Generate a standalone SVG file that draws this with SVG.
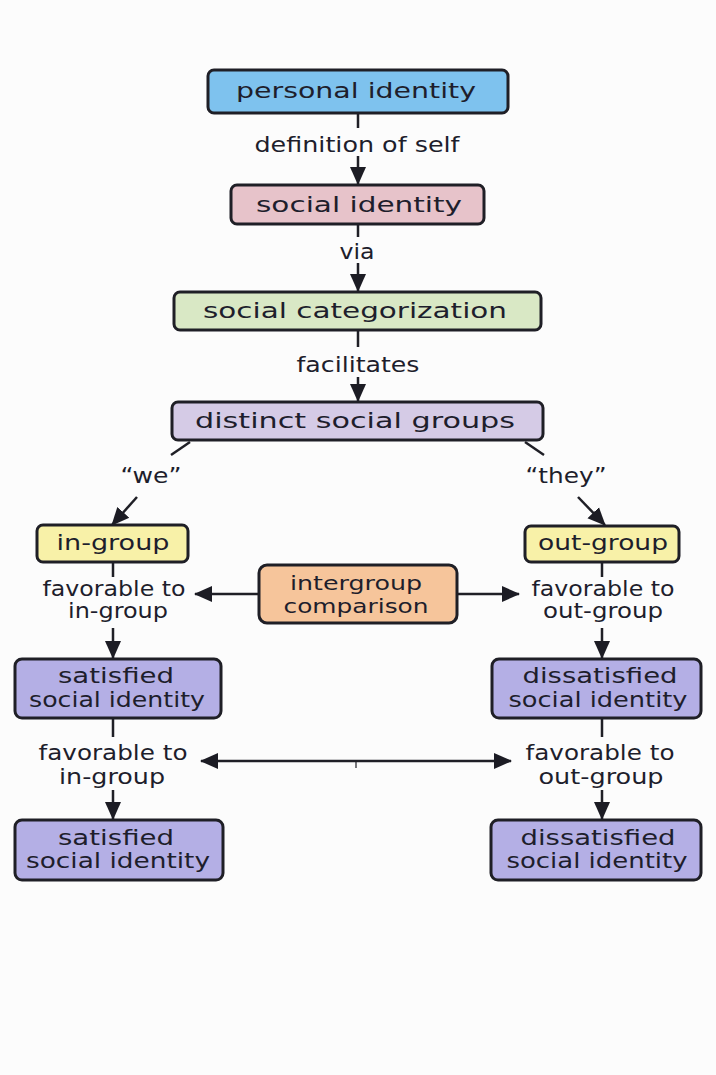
<svg xmlns="http://www.w3.org/2000/svg" width="716" height="1075" viewBox="0 0 716 1075">
<defs>
<marker id="ah" markerUnits="userSpaceOnUse" markerWidth="18" markerHeight="18" viewBox="0 0 18 18" refX="17" refY="9" orient="auto-start-reverse">
<path d="M0,1 L18,9 L0,17 Z" fill="#1c1c24"/>
</marker>
</defs>
<style>
.box{stroke:#1f1f26;stroke-width:3}
.t{font-family:"DejaVu Sans","Liberation Sans",sans-serif;fill:#1e1e2c;text-anchor:middle}
.b{font-size:22px}
.l{font-size:21px}
.s{font-size:20px}
.c{fill:none;stroke:#1f1f26;stroke-width:2.5}
</style>
<rect width="716" height="1075" fill="#fcfcfc"/>
<g id="connectors">
<path class="c" d="M358,113 V128"/>
<path class="c" d="M358,156 V184" marker-end="url(#ah)"/>
<path class="c" d="M358,225 V237"/>
<path class="c" d="M358,263 V291" marker-end="url(#ah)"/>
<path class="c" d="M358,331 V347"/>
<path class="c" d="M358,377 V401" marker-end="url(#ah)"/>
<path class="c" d="M190,442 L171,455"/>
<path class="c" d="M137,497 L112,525" marker-end="url(#ah)"/>
<path class="c" d="M525,442 L544,455"/>
<path class="c" d="M578,497 L605,525" marker-end="url(#ah)"/>
<path class="c" d="M113,563 V577"/>
<path class="c" d="M113,628 V658" marker-end="url(#ah)"/>
<path class="c" d="M602,563 V577"/>
<path class="c" d="M602,628 V658" marker-end="url(#ah)"/>
<path class="c" d="M258,594 H195" marker-end="url(#ah)"/>
<path class="c" d="M458,594 H519" marker-end="url(#ah)"/>
<path class="c" d="M113,718 V737"/>
<path class="c" d="M113,790 V819" marker-end="url(#ah)"/>
<path class="c" d="M602,718 V737"/>
<path class="c" d="M602,790 V819" marker-end="url(#ah)"/>
<path class="c" d="M201,761 H511" marker-start="url(#ah)" marker-end="url(#ah)"/>
<path class="c" d="M356,761 V768" style="stroke-width:1.2"/>
</g>
<g id="labels">
<text class="t l" x="357" y="152" textLength="205" lengthAdjust="spacingAndGlyphs">definition of self</text>
<text class="t l" x="357" y="259" textLength="35" lengthAdjust="spacingAndGlyphs">via</text>
<text class="t l" x="358" y="372" textLength="123" lengthAdjust="spacingAndGlyphs">facilitates</text>
<text class="t l" x="151" y="483" textLength="61" lengthAdjust="spacingAndGlyphs">“we”</text>
<text class="t l" x="566" y="483" textLength="81" lengthAdjust="spacingAndGlyphs">“they”</text>
<text class="t l" x="114" y="596" textLength="143" lengthAdjust="spacingAndGlyphs">favorable to</text>
<text class="t l" x="118" y="618" textLength="100" lengthAdjust="spacingAndGlyphs">in-group</text>
<text class="t l" x="603" y="596" textLength="143" lengthAdjust="spacingAndGlyphs">favorable to</text>
<text class="t l" x="603" y="618" textLength="120" lengthAdjust="spacingAndGlyphs">out-group</text>
<text class="t l" x="113" y="760" textLength="149" lengthAdjust="spacingAndGlyphs">favorable to</text>
<text class="t l" x="112" y="784" textLength="106" lengthAdjust="spacingAndGlyphs">in-group</text>
<text class="t l" x="600" y="760" textLength="149" lengthAdjust="spacingAndGlyphs">favorable to</text>
<text class="t l" x="601" y="784" textLength="125" lengthAdjust="spacingAndGlyphs">out-group</text>
</g>
<g id="personal-identity">
<rect class="box" x="208" y="70" width="300" height="43" rx="6" fill="#7ec2ee"/>
<text class="t b" x="356" y="98" textLength="240" lengthAdjust="spacingAndGlyphs">personal identity</text>
</g>
<g id="social-identity">
<rect class="box" x="231" y="185" width="253" height="39" rx="6" fill="#e7c3ca"/>
<text class="t b" x="359" y="212" textLength="206" lengthAdjust="spacingAndGlyphs">social identity</text>
</g>
<g id="social-categorization">
<rect class="box" x="174" y="292" width="367" height="38" rx="6" fill="#d9e8c5"/>
<text class="t b" x="355" y="318" textLength="304" lengthAdjust="spacingAndGlyphs">social categorization</text>
</g>
<g id="distinct-social-groups">
<rect class="box" x="172" y="402" width="371" height="38" rx="6" fill="#d5cbe6"/>
<text class="t b" x="355" y="428" textLength="320" lengthAdjust="spacingAndGlyphs">distinct social groups</text>
</g>
<g id="in-group">
<rect class="box" x="37" y="525" width="151" height="37" rx="6" fill="#f8f1a8"/>
<text class="t l" x="113" y="550" textLength="113" lengthAdjust="spacingAndGlyphs">in-group</text>
</g>
<g id="out-group">
<rect class="box" x="525" y="526" width="154" height="36" rx="6" fill="#f8f1a8"/>
<text class="t l" x="603" y="550" textLength="130" lengthAdjust="spacingAndGlyphs">out-group</text>
</g>
<g id="intergroup-comparison">
<rect class="box" x="259" y="565" width="198" height="58" rx="8" fill="#f6c59b"/>
<text class="t s" x="356" y="590" textLength="132" lengthAdjust="spacingAndGlyphs">intergroup</text>
<text class="t s" x="356" y="613" textLength="145" lengthAdjust="spacingAndGlyphs">comparison</text>
</g>
<g id="satisfied-1">
<rect class="box" x="15" y="659" width="206" height="59" rx="7" fill="#b4afe5"/>
<text class="t l" x="116" y="683" textLength="116" lengthAdjust="spacingAndGlyphs">satisfied</text>
<text class="t l" x="117" y="707" textLength="176" lengthAdjust="spacingAndGlyphs">social identity</text>
</g>
<g id="dissatisfied-1">
<rect class="box" x="492" y="659" width="209" height="59" rx="7" fill="#b4afe5"/>
<text class="t l" x="600" y="683" textLength="155" lengthAdjust="spacingAndGlyphs">dissatisfied</text>
<text class="t l" x="598" y="707" textLength="179" lengthAdjust="spacingAndGlyphs">social identity</text>
</g>
<g id="satisfied-2">
<rect class="box" x="15" y="820" width="208" height="60" rx="7" fill="#b4afe5"/>
<text class="t l" x="116" y="845" textLength="116" lengthAdjust="spacingAndGlyphs">satisfied</text>
<text class="t l" x="118" y="868" textLength="184" lengthAdjust="spacingAndGlyphs">social identity</text>
</g>
<g id="dissatisfied-2">
<rect class="box" x="491" y="820" width="210" height="60" rx="7" fill="#b4afe5"/>
<text class="t l" x="598" y="845" textLength="155" lengthAdjust="spacingAndGlyphs">dissatisfied</text>
<text class="t l" x="597" y="868" textLength="181" lengthAdjust="spacingAndGlyphs">social identity</text>
</g>
</svg>
